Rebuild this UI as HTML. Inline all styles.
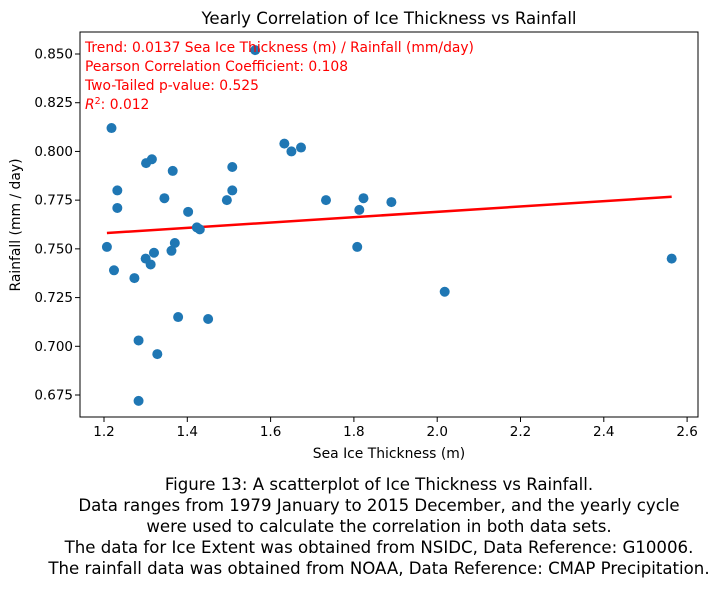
<!DOCTYPE html>
<html><head><meta charset="utf-8"><style>
body{margin:0;background:#fff;font-family:"DejaVu Sans",sans-serif}
#cap{position:absolute;left:0;top:474px;width:758px;text-align:center;font-size:16.6px;line-height:21px;color:#000;white-space:nowrap}
</style></head><body>
<svg id="chart" width="719" height="589" style="position:absolute;left:0;top:0" font-family="DejaVu Sans, sans-serif"></svg>
<div id="cap">Figure 13: A scatterplot of Ice Thickness vs Rainfall.<br>Data ranges from 1979 January to 2015 December, and the yearly cycle<br>were used to calculate the correlation in both data sets.<br>The data for Ice Extent was obtained from NSIDC, Data Reference: G10006.<br>The rainfall data was obtained from NOAA, Data Reference: CMAP Precipitation.</div>
<script>
const xs=[1.207,1.218,1.224,1.232,1.232,1.273,1.283,1.283,1.300,1.301,1.312,1.315,1.320,1.328,1.345,1.362,1.365,1.370,1.378,1.402,1.423,1.430,1.450,1.495,1.508,1.508,1.563,1.633,1.650,1.673,1.733,1.808,1.813,1.823,1.890,2.018,2.563];
const ys=[0.751,0.812,0.739,0.780,0.771,0.735,0.703,0.672,0.745,0.794,0.742,0.796,0.748,0.696,0.776,0.749,0.790,0.753,0.715,0.769,0.761,0.760,0.714,0.775,0.780,0.792,0.852,0.804,0.800,0.802,0.775,0.751,0.770,0.776,0.774,0.728,0.745];
const xTicks=[1.2,1.4,1.6,1.8,2.0,2.2,2.4,2.6];
const yTicks=[0.675,0.700,0.725,0.750,0.775,0.800,0.825,0.850];
const trendSlope=0.0137, trendIntercept=0.7416;
const svg=document.getElementById('chart');const NS='http://www.w3.org/2000/svg';
const L=80,R=698,T=32,B=417;
const X=v=>104+(v-1.2)*416.5;
const Y=v=>54+(0.850-v)*1948.6;
function mk(t,a,p){const e=document.createElementNS(NS,t);for(const k in a)e.setAttribute(k,a[k]);(p||svg).appendChild(e);return e;}
const title=mk('text',{x:389,y:24,'text-anchor':'middle','font-size':16.6});title.textContent='Yearly Correlation of Ice Thickness vs Rainfall';


xTicks.forEach(v=>{const x=X(v);mk('line',{x1:x,x2:x,y1:B,y2:B+5,stroke:'#000'});const t=mk('text',{x:x,y:B+19,'text-anchor':'middle','font-size':13.5});t.textContent=v.toFixed(1);

});
yTicks.forEach(v=>{const y=Y(v);mk('line',{x1:L-5,x2:L,y1:y,y2:y,stroke:'#000'});const t=mk('text',{x:L-7,y:y+4.5,'text-anchor':'end','font-size':13.5});t.textContent=v.toFixed(3);

});
const xmin=Math.min(...xs),xmax=Math.max(...xs);
const tl=mk('line',{x1:X(xmin),x2:X(xmax),y1:Y(trendIntercept+trendSlope*xmin),y2:Y(trendIntercept+trendSlope*xmax),stroke:'#ff0000','stroke-width':2.5});


xs.forEach((v,i)=>{const c=mk('circle',{cx:X(v),cy:Y(ys[i]),r:5,fill:'#1f77b4'});

});
const fr=mk('rect',{x:L,y:T,width:R-L,height:B-T,fill:'none',stroke:'#000','stroke-width':1});


const ann=['Trend: 0.0137 Sea Ice Thickness (m) / Rainfall (mm/day)','Pearson Correlation Coefficient: 0.108','Two-Tailed p-value: 0.525'];
ann.forEach((s,i)=>{const t=mk('text',{x:85,y:52+i*19,'font-size':13.85,fill:'#ff0000'});t.textContent=s;

});
const r2=mk('text',{x:85,y:109,'font-size':13.85,fill:'#ff0000'});r2.innerHTML='<tspan font-style="italic">R</tspan><tspan dy="-5" font-size="9.5">2</tspan><tspan dy="5">: 0.012</tspan>';


const xl=mk('text',{x:389,y:458,'text-anchor':'middle','font-size':13.9});xl.textContent='Sea Ice Thickness (m)';


const yl=mk('text',{x:0,y:0,'text-anchor':'middle','font-size':13.9,transform:'translate(20,225) rotate(-90)'});yl.textContent='Rainfall (mm / day)';


</script>
</body></html>
